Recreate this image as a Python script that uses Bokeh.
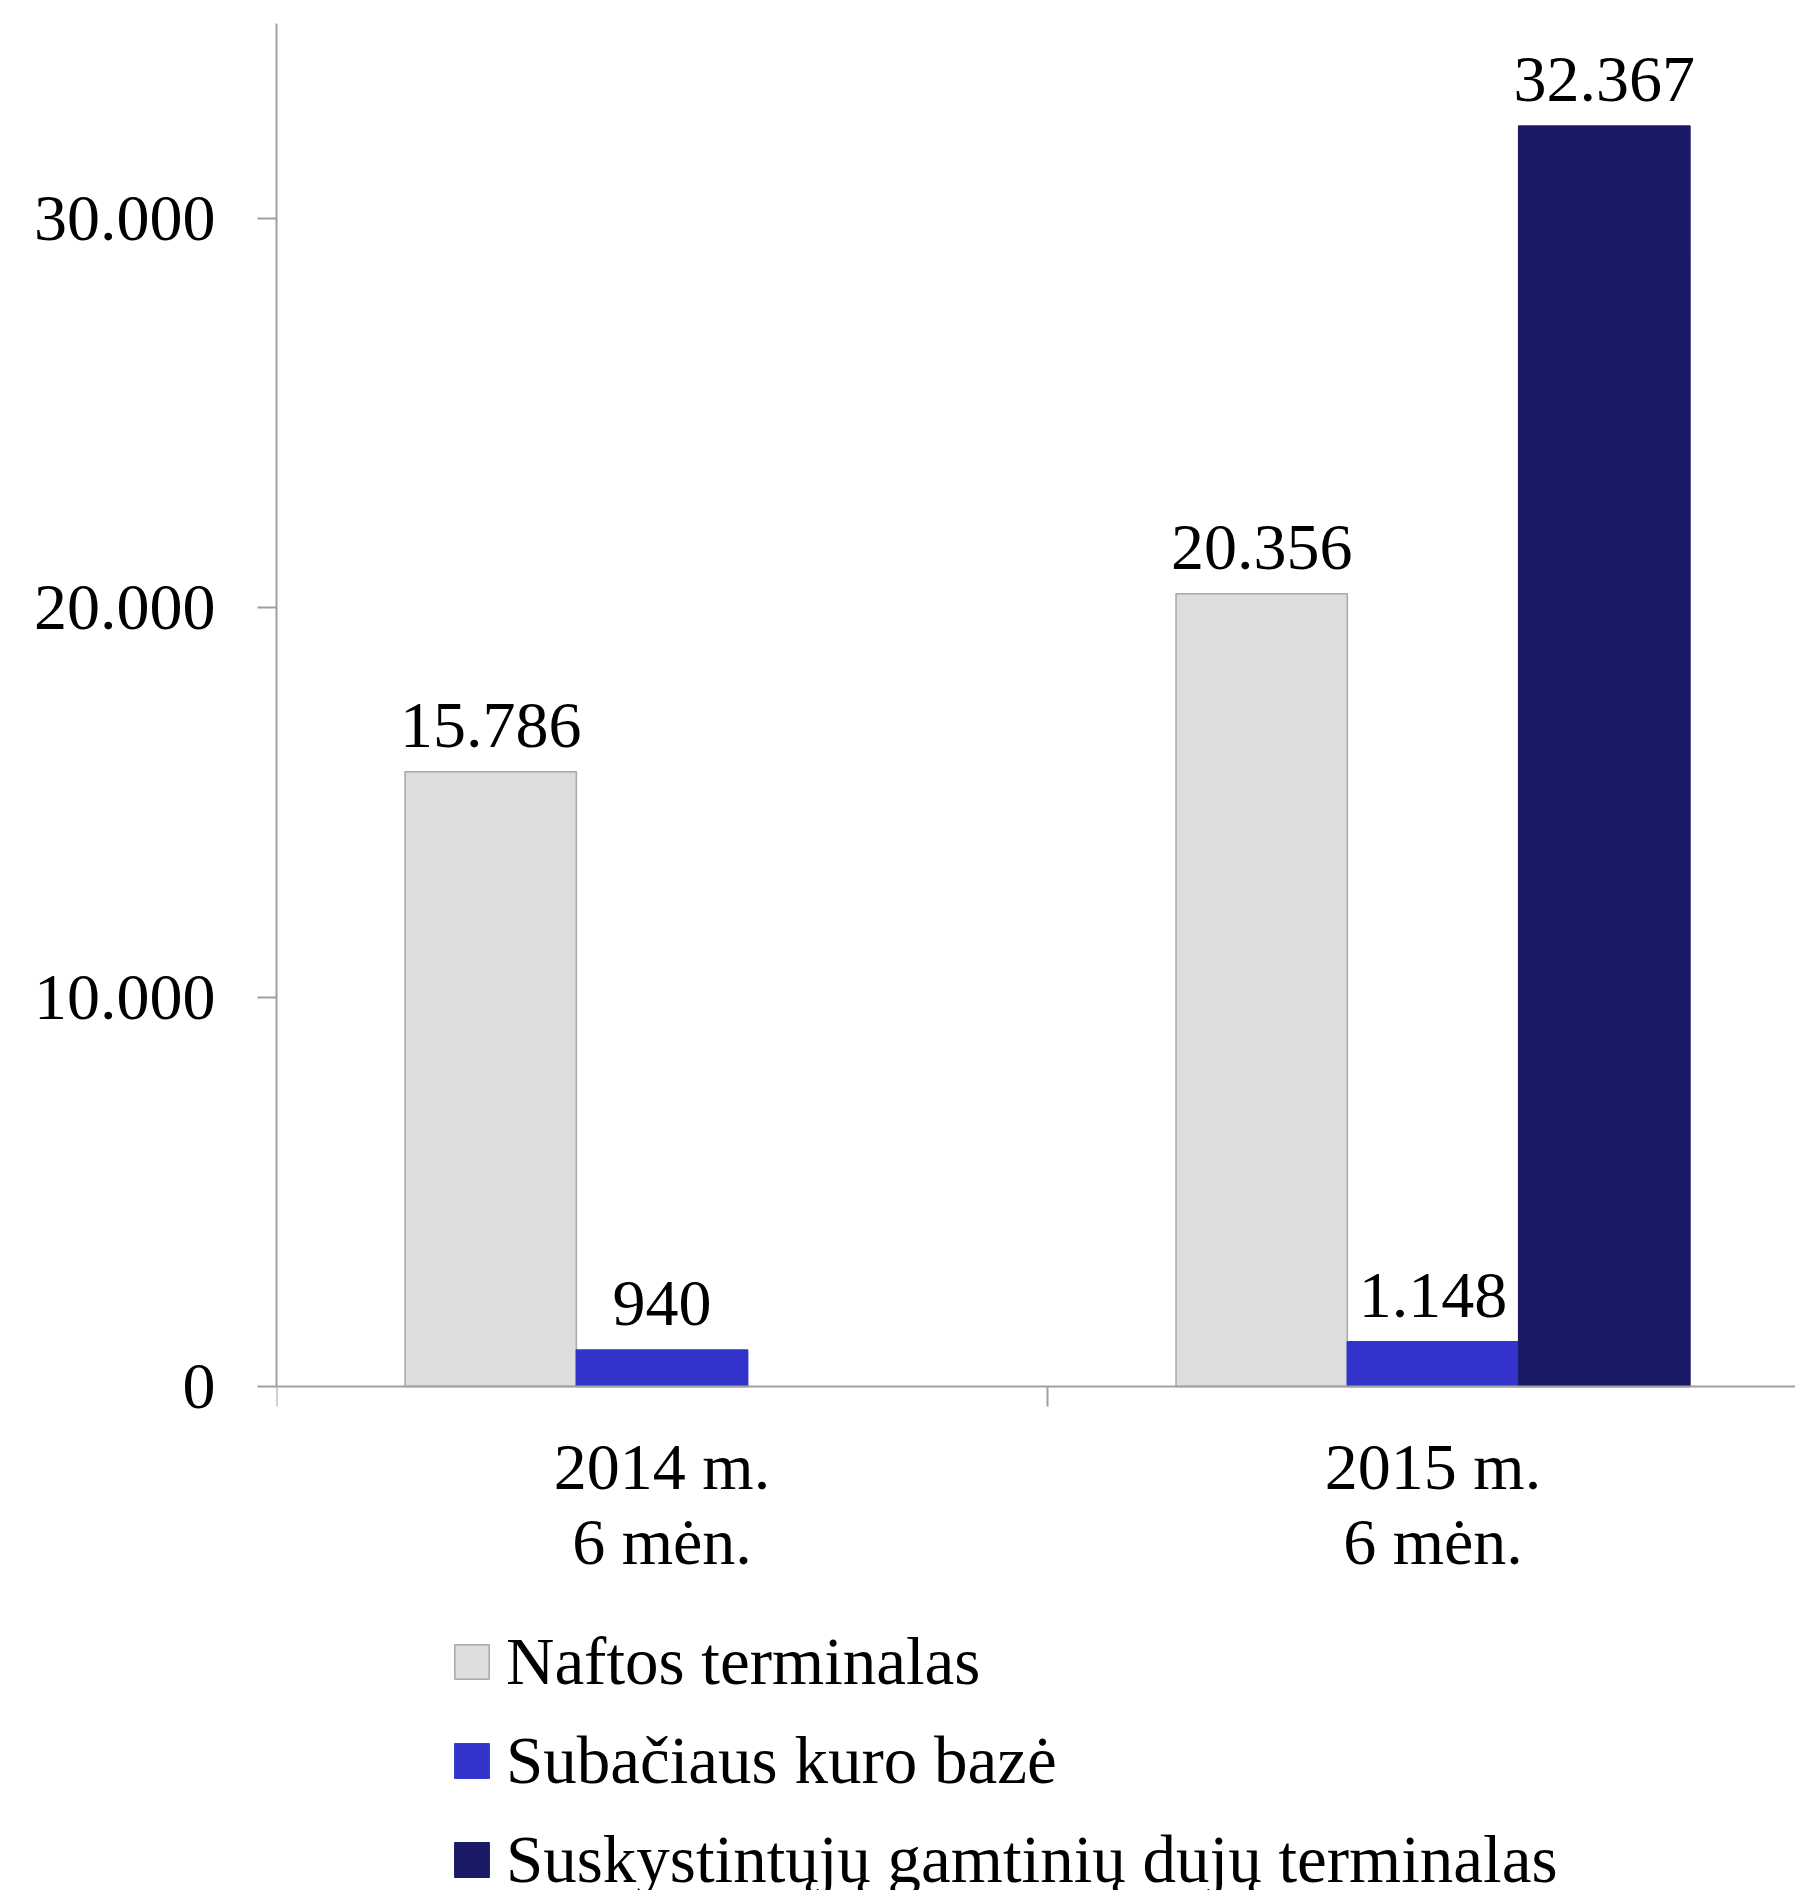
import numpy as np
from bokeh.plotting import figure
from bokeh.models import (ColumnDataSource, Range1d, FixedTicker, LabelSet,
                          Legend, LegendItem)
from bokeh.embed import file_html
from bokeh.resources import INLINE

# ---- data ----
categories = ["2014 m.\n6 mėn.", "2015 m.\n6 mėn."]
series_names = ["Naftos terminalas", "Subačiaus kuro bazė",
                "Suskystintųjų gamtinių dujų terminalas"]
naftos = [15786, 20356]
subacius = [940, 1148]
sgd = [None, 32367]
series_values = [naftos, subacius, sgd]
colors = ["#DDDDDD", "#3333CC", "#1B1A66"]
outlines = ["#A8A8A8", "#3535D0", "#1B1A66"]
y_ticks = [0, 10000, 20000, 30000]
y_max = 35000

FONT = "Liberation Serif"
FS = "66px"
BAR_W = 0.2222

# layout (pixels)
W, H = 1795, 1890
LEFT, TOP = 276, 23
PLOT_H = 1363          # height of the value area (0 .. y_max)
CAT_PX = 771           # width of one category
frame_w = W - LEFT
frame_h = H - TOP
y_min = -(frame_h - PLOT_H) * y_max / PLOT_H

p = figure(width=W, height=H, output_backend="svg", toolbar_location=None,
           x_range=Range1d(0, frame_w / CAT_PX), y_range=Range1d(y_min, y_max),
           min_border_left=LEFT, min_border_right=0, min_border_top=TOP,
           min_border_bottom=0)
p.outline_line_color = None
p.xgrid.visible = False
p.ygrid.visible = False
p.background_fill_color = "white"
p.border_fill_color = "white"

renderers = []
for s, (name, vals) in enumerate(zip(series_names, series_values)):
    xs, tops, texts = [], [], []
    for i, v in enumerate(vals):
        if v is None:
            continue
        xs.append(i + 0.5 + (s - 1) * BAR_W)
        tops.append(v)
        texts.append(f"{v:,}".replace(",", "."))
    src = ColumnDataSource(dict(x=xs, top=tops, text=texts))
    r = p.vbar(x="x", top="top", bottom=0, width=BAR_W, source=src,
               fill_color=colors[s], line_color=outlines[s], line_width=1.5)
    renderers.append(r)
    lbl = LabelSet(x="x", y="top", text="text", source=src, y_offset=25,
                   text_align="center", text_baseline="alphabetic",
                   text_font=FONT, text_font_size=FS, text_color="black")
    p.add_layout(lbl)

# y axis
ya = p.yaxis[0]
ya.bounds = (0, y_max)
ya.ticker = FixedTicker(ticks=y_ticks, minor_ticks=[])
ya.major_label_overrides = {t: (f"{t:,}".replace(",", ".")) for t in y_ticks}
ya.axis_line_color = "#A0A0A0"
ya.axis_line_width = 2
ya.major_tick_line_color = "#A0A0A0"
ya.major_tick_line_width = 2
ya.major_tick_out = 19
ya.major_tick_in = 0
ya.minor_tick_line_color = None
ya.major_label_standoff = 42
ya.major_label_text_font = FONT
ya.major_label_text_font_size = FS
ya.major_label_text_color = "black"

# x axis (drawn at y = 0 inside the frame)
xa = p.xaxis[0]
xa.fixed_location = 0
xa.ticker = FixedTicker(ticks=[i + 0.5 for i in range(len(categories))],
                        minor_ticks=list(range(len(categories) + 1)))
xa.major_label_overrides = {i + 0.5: c for i, c in enumerate(categories)}
xa.axis_line_color = "#A0A0A0"
xa.axis_line_width = 2
xa.major_tick_line_color = None
xa.major_tick_out = 0
xa.major_tick_in = 0
xa.minor_tick_line_color = "#A0A0A0"
xa.minor_tick_line_width = 2
xa.minor_tick_out = 20
xa.minor_tick_in = 0
xa.major_label_standoff = 23
xa.major_label_text_font = FONT
xa.major_label_text_font_size = FS
xa.major_label_text_line_height = 1.03
xa.major_label_text_color = "black"
xa.major_label_text_align = "center"

legend = Legend(items=[LegendItem(label=n, renderers=[r])
                       for n, r in zip(series_names, renderers)],
                location=(174, -8), orientation="vertical",
                label_text_font=FONT, label_text_font_size="67px",
                label_text_color="black", glyph_width=43, glyph_height=43,
                spacing=22, padding=0, margin=0, label_standoff=13,
                border_line_color=None, background_fill_alpha=0)
p.add_layout(legend, "center")

open("out.html", "w").write(file_html(p, INLINE))
